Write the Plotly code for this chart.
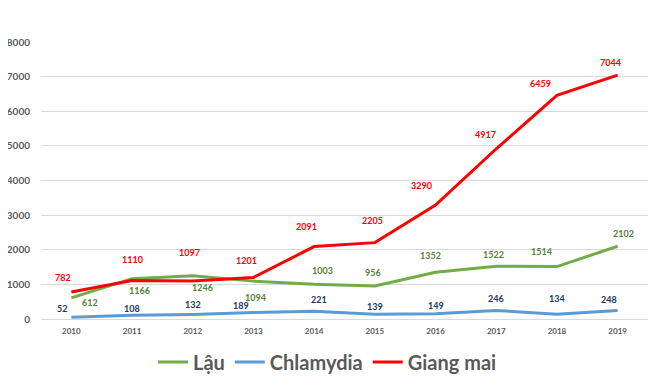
import plotly.graph_objects as go

years = ["2010", "2011", "2012", "2013", "2014", "2015", "2016", "2017", "2018", "2019"]
lau = [612, 1166, 1246, 1094, 1003, 956, 1352, 1522, 1514, 2102]
chlamydia = [52, 108, 132, 189, 221, 139, 149, 246, 134, 248]
giang_mai = [782, 1110, 1097, 1201, 2091, 2205, 3290, 4917, 6459, 7044]
y_ticks = [0, 1000, 2000, 3000, 4000, 5000, 6000, 7000, 8000]

# label offsets in pixels (dx, dy up)
lau_off = [(19, -5), (7, -12), (10, -12), (2, -16), (8, 14), (-2, 13), (-5, 17), (-3, 12), (-15, 15), (6, 13)]
chl_off = [(-9, 9), (0, 7), (0, 10), (-12, 7), (5, 12), (0, 8), (0, 8), (0, 12), (0, 16), (-9, 11)]
gm_off = [(-8, 14), (0, 21), (-3, 29), (-7, 17), (-8, 20), (-2, 22), (-14, 20), (-11, 14), (-16, 12), (-7, 13)]

FONT = "Lato"
GRAY = "#595959"

fig = go.Figure()
series = [
    ("Lậu", lau, "#70AD47", "#548235", lau_off),
    ("Chlamydia", chlamydia, "#5B9BD5", "#203864", chl_off),
    ("Giang mai", giang_mai, "#FF0000", "#FF0000", gm_off),
]
annotations = []
for name, vals, color, lblcolor, offs in series:
    fig.add_trace(go.Scatter(x=years, y=vals, mode="lines", name=name,
                             line=dict(color=color, width=3)))
    for i, (v, (dx, dy)) in enumerate(zip(vals, offs)):
        annotations.append(dict(x=i, y=v, xref="x", yref="y", text=f"<b>{v}</b>",
                                showarrow=False, xshift=dx, yshift=dy,
                                xanchor="center", yanchor="middle",
                                font=dict(family=FONT, size=9, color=lblcolor)))

# page body has an 8px margin, so the figure is slightly smaller and shifted
fig.update_layout(
    width=652, height=374,
    margin=dict(l=33, r=12, t=34, b=63, autoexpand=False),
    paper_bgcolor="white", plot_bgcolor="white",
    annotations=annotations,
    showlegend=True,
    legend=dict(orientation="h", x=0.472, xanchor="center", y=-0.155, yanchor="middle",
                font=dict(family=FONT, size=20, color=GRAY, weight="bold"),
                itemwidth=30, tracegroupgap=0),
    font=dict(family=FONT, color=GRAY),
)
fig.update_xaxes(type="category", range=[-0.5, 9.5], showgrid=False, showline=False,
                 zeroline=False, ticks="", ticklabelstandoff=6, automargin=False,
                 tickfont=dict(family=FONT, size=8, color=GRAY, weight="bold"))
fig.update_yaxes(range=[0, 8000], tickvals=y_ticks, showgrid=True, gridcolor="#D9D9D9",
                 gridwidth=1, zeroline=True, zerolinecolor="#D9D9D9", zerolinewidth=1,
                 showline=False, ticks="", ticklabelstandoff=10, automargin=False,
                 tickfont=dict(family=FONT, size=10, color=GRAY, weight="bold"))

fig.write_html("out.html")
